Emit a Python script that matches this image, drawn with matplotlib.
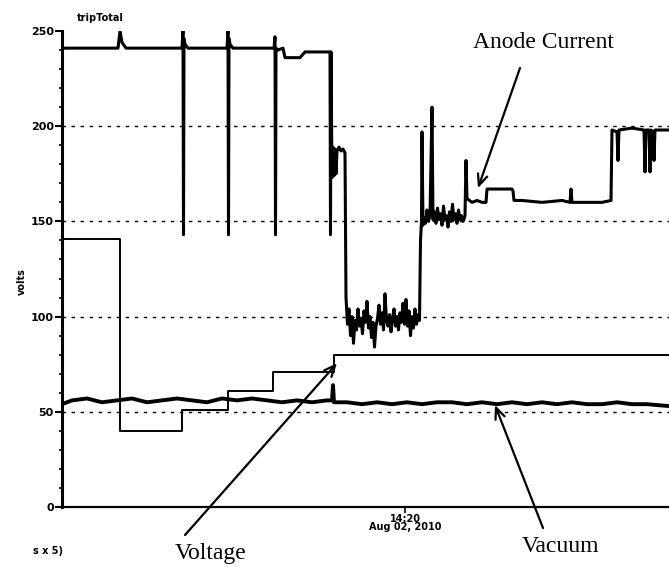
import matplotlib
matplotlib.use("Agg")
import matplotlib.pyplot as plt
from matplotlib.ticker import MultipleLocator

# ---- data: (time, volts) pairs; time in tenths-of-a-minute units from window start ----
anode_high = [(0, 241), (5.6, 241), (5.8, 250), (6.0, 244), (6.4, 241),
              (12.0, 241), (12.1, 250), (12.15, 143), (12.2, 246), (12.3, 243), (12.6, 241),
              (16.5, 241), (16.6, 250), (16.65, 143), (16.7, 246), (16.8, 243), (17.1, 241),
              (21.2, 241), (21.3, 247), (21.35, 143), (21.4, 241), (21.6, 240),
              (22.1, 241), (22.3, 236), (23.8, 236), (24.3, 239), (26.7, 239),
              (26.8, 239), (26.85, 143), (26.9, 239), (27.0, 173), (27.1, 189),
              (27.2, 174), (27.3, 188), (27.4, 175), (27.5, 187), (27.7, 189),
              (27.9, 187), (28.1, 188), (28.3, 186)]
anode_low = [(28.4, 110), (28.55, 96), (28.7, 104), (28.85, 90), (29.0, 100),
             (29.15, 86), (29.3, 98), (29.45, 93), (29.6, 104), (29.75, 95),
             (29.9, 99), (30.05, 91), (30.2, 103), (30.35, 97), (30.5, 108),
             (30.65, 94), (30.8, 100), (30.95, 89), (31.1, 97), (31.25, 84),
             (31.4, 95), (31.55, 99), (31.7, 106), (31.85, 96), (32.0, 102),
             (32.15, 93), (32.3, 112), (32.45, 98), (32.6, 95), (32.75, 101),
             (32.9, 92), (33.05, 99), (33.2, 104), (33.35, 95), (33.5, 100),
             (33.65, 93), (33.8, 102), (33.95, 97), (34.1, 107), (34.25, 96),
             (34.4, 109), (34.55, 95), (34.7, 103), (34.85, 90), (35.0, 100),
             (35.15, 94), (35.3, 104), (35.45, 96), (35.6, 101), (35.75, 98)]
anode_mid = [(35.85, 140), (35.95, 150), (36.0, 197), (36.1, 148),
             (36.2, 152), (36.35, 149), (36.5, 156), (36.65, 150), (36.8, 153),
             (37.0, 210), (37.1, 151), (37.25, 155), (37.4, 149), (37.55, 157),
             (37.7, 151), (37.85, 154), (38.0, 148), (38.15, 158), (38.3, 151),
             (38.45, 153), (38.6, 147), (38.75, 155), (38.9, 150), (39.05, 159),
             (39.2, 151), (39.35, 154), (39.5, 149), (39.65, 156), (39.8, 151),
             (39.95, 153), (40.1, 150), (40.25, 152),
             (40.3, 153), (40.4, 182), (40.5, 162), (41.0, 160), (41.5, 161),
             (42.0, 160), (42.4, 160), (42.5, 167), (44.0, 167), (45.0, 167),
             (45.1, 166), (45.2, 161), (46.0, 161), (48.0, 160), (50.0, 161),
             (50.8, 160), (50.9, 167), (51.0, 160), (52.0, 160), (54.0, 160),
             (54.9, 161), (55.0, 198), (55.5, 197), (55.6, 182), (55.7, 198),
             (57.0, 199), (58.2, 198), (58.3, 176), (58.4, 198), (58.7, 198),
             (58.8, 176), (58.9, 198), (59.1, 197), (59.2, 182), (59.3, 198),
             (60.7, 198)]

vacuum = [(0, 54), (1.0, 56), (2.5, 57), (4.0, 55), (5.5, 56), (7.0, 57),
          (8.5, 55), (10.0, 56), (11.5, 57), (13.0, 56), (14.5, 55), (16.0, 57),
          (17.5, 56), (19.0, 57), (20.5, 56), (22.0, 55), (23.5, 56), (25.0, 55),
          (26.5, 56), (27.0, 56), (27.1, 64), (27.2, 55), (28.5, 55), (30.0, 54),
          (31.5, 55), (33.0, 54), (34.5, 55), (36.0, 54), (37.5, 55), (39.0, 55),
          (40.5, 54), (42.0, 55), (43.5, 54), (45.0, 55), (46.5, 54), (48.0, 55),
          (49.5, 54), (51.0, 55), (52.5, 54), (54.0, 54), (55.5, 55), (57.0, 54),
          (58.5, 54), (60.7, 53)]

voltage = [(0, 141), (5.8, 40), (12.0, 51), (16.6, 61), (21.1, 71), (27.2, 80), (60.7, 80)]

y_ticks = [0, 50, 100, 150, 200, 250]
y_grid = [50, 100, 150, 200]
x_tick_pos = [34.3]
x_tick_lab = ["14:20\nAug 02, 2010"]

anode = anode_high + anode_low + anode_mid
anode_t, anode_v = zip(*anode)
vac_t, vac_v = zip(*vacuum)
volt_t, volt_v = zip(*voltage)

W, H = 669, 567
fig = plt.figure(figsize=(W / 100, H / 100), dpi=100)
ax = fig.add_axes([62 / W, 60 / H, (W - 62) / W, (507 - 31) / H])

for g in y_grid:
    ax.axhline(g, color="black", lw=1.0, ls=(0, (2.5, 4)), zorder=1)

ax.step(volt_t, volt_v, where="post", color="black", lw=1.4, zorder=2)
ax.plot(vac_t, vac_v, color="black", lw=2.8, zorder=3)
ax.plot(anode_t, anode_v, color="black", lw=2.2, zorder=3)

ax.set_xlim(0, 60.7)
ax.set_ylim(0, 250)
ax.set_yticks(y_ticks)
ax.yaxis.set_minor_locator(MultipleLocator(10))
ax.set_xticks(x_tick_pos)
ax.set_xticklabels(x_tick_lab, fontsize=7, fontweight="bold", linespacing=0.8)
for lab in ax.get_yticklabels():
    lab.set_fontsize(8)
    lab.set_fontweight("bold")
ax.tick_params(axis="y", which="major", length=5, width=1.5, pad=1)
ax.tick_params(axis="y", which="minor", length=2, width=1.2)
ax.tick_params(axis="x", length=4, width=1.2, pad=1)
ax.spines["top"].set_visible(False)
ax.spines["right"].set_visible(False)
ax.spines["left"].set_linewidth(2.2)
ax.spines["bottom"].set_linewidth(1.6)

fig.text(77 / W, 1 - 18 / H, "tripTotal", fontsize=7, fontweight="bold",
         va="center", ha="left")
fig.text(22 / W, 1 - 282 / H, "volts", fontsize=7, fontweight="bold",
         rotation=90, va="center", ha="center")
fig.text(33 / W, 1 - 551 / H, "s x 5)", fontsize=7, fontweight="bold",
         va="center", ha="left")

serif = dict(family=["Liberation Serif", "DejaVu Serif"], fontsize=17)
fig.text(543 / W, 1 - 42 / H, "Anode Current", ha="center", va="center", **serif)
fig.text(211 / W, 1 - 553 / H, "Voltage", ha="center", va="center", **serif)
fig.text(560 / W, 1 - 547 / H, "Vacuum", ha="center", va="center", **serif)

arrow = dict(arrowstyle="->,head_length=0.8,head_width=0.35", color="black",
             lw=1.6, shrinkA=0, shrinkB=0)
ax.annotate("", xy=(41.6, 167.5), xycoords="data",
            xytext=(520, H - 68), textcoords="figure pixels", arrowprops=arrow)
ax.annotate("", xy=(27.5, 75.5), xycoords="data",
            xytext=(185, H - 535), textcoords="figure pixels", arrowprops=arrow,
            annotation_clip=False)
ax.annotate("", xy=(43.3, 53.5), xycoords="data",
            xytext=(543, H - 528), textcoords="figure pixels", arrowprops=arrow,
            annotation_clip=False)

fig.savefig("out.png", dpi=100)
